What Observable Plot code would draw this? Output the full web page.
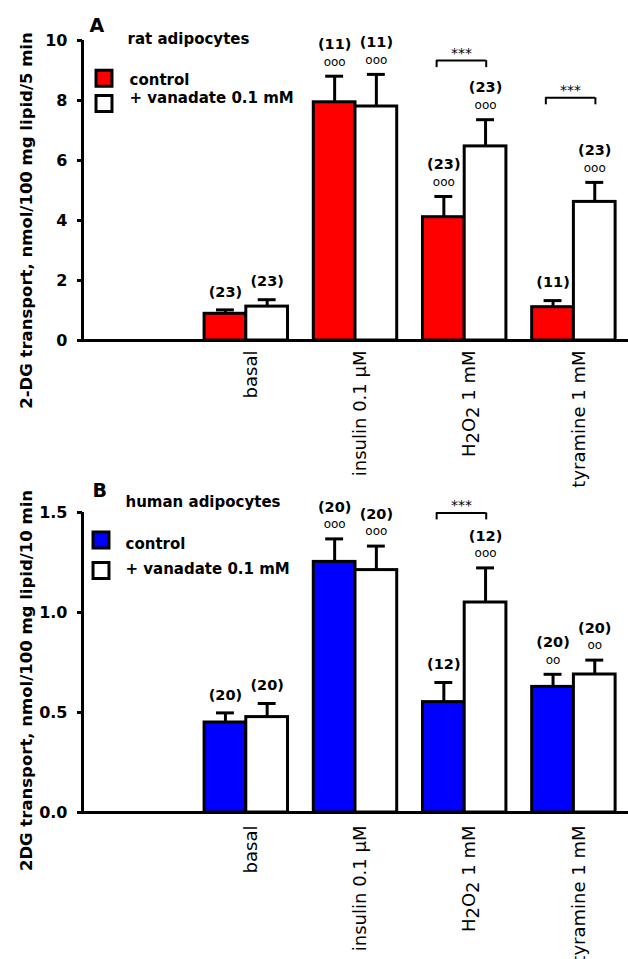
<!DOCTYPE html>
<html><head><meta charset="utf-8">
<script src="https://cdn.jsdelivr.net/npm/d3@7"></script>
<script src="https://cdn.jsdelivr.net/npm/@observablehq/plot@0.6"></script>
<style>
body{margin:0;background:#fff;}
#wrap{position:relative;width:628px;height:959px;overflow:hidden;}
#top,#bot{position:absolute;left:0;}
#top{top:0px;}
#bot{top:470px;}
</style></head><body>
<div id="wrap"><div id="top"></div><div id="bot"></div></div>
<script>
// ---- data ----
const categories = ["basal", "insulin 0.1 μM", "H2O2 1 mM", "tyramine 1 mM"];
const seriesNames = ["control", "+ vanadate 0.1 mM"];

// Panel A: rat adipocytes
const ratControl = [0.89, 7.94, 4.11, 1.11];
const ratControlSem = [0.13, 0.87, 0.69, 0.22];
const ratControlN = [23, 11, 23, 11];
const ratControlSig = ["", "ooo", "ooo", ""];
const ratVanadate = [1.13, 7.80, 6.47, 4.62];
const ratVanadateSem = [0.23, 1.07, 0.89, 0.65];
const ratVanadateN = [23, 11, 23, 23];
const ratVanadateSig = ["", "ooo", "ooo", "ooo"];
const ratBracketCats = ["H2O2 1 mM", "tyramine 1 mM"];
const ratBracketY = [9.33, 8.09];
const ratYTicks = [0, 2, 4, 6, 8, 10];

// Panel B: human adipocytes
const humControl = [0.45, 1.253, 0.552, 0.628];
const humControlSem = [0.048, 0.115, 0.098, 0.063];
const humControlN = [20, 20, 12, 20];
const humControlSig = ["", "ooo", "", "oo"];
const humVanadate = [0.477, 1.212, 1.05, 0.69];
const humVanadateSem = [0.068, 0.12, 0.173, 0.072];
const humVanadateN = [20, 20, 12, 20];
const humVanadateSig = ["", "ooo", "ooo", "oo"];
const humBracketCats = ["H2O2 1 mM"];
const humBracketY = [1.498];
const humYTicks = [0, 0.5, 1.0, 1.5];

const FONT = "DejaVu Sans";
const BAR_W = 0.382;   // bar width in band units
const CAP = 0.082;     // half cap width
const BR = 0.227;      // half bracket width

function panel(cfg) {
  const rows = [];
  categories.forEach((c, i) => {
    const k = i + 1;
    rows.push({cat: k, s: 0, value: cfg.ctrl[i], sem: cfg.ctrlSem[i], n: cfg.ctrlN[i], sig: cfg.ctrlSig[i],
      x1: k - BAR_W, x2: k, cx: k - BAR_W / 2});
    rows.push({cat: k, s: 1, value: cfg.van[i], sem: cfg.vanSem[i], n: cfg.vanN[i], sig: cfg.vanSig[i],
      x1: k, x2: k + BAR_W, cx: k + BAR_W / 2});
  });
  rows.forEach(d => d.top = d.value + d.sem);
  const brackets = cfg.brCats.map((c, i) => ({cx: categories.indexOf(c) + 1 - 0.03, y: cfg.brY[i]}));
  const bracketEnds = brackets.flatMap(b => [{x: b.cx - BR, y: b.y}, {x: b.cx + BR, y: b.y}]);
  const fl = cfg.legend;

  const chart = Plot.plot({
    width: 628, height: cfg.height,
    marginLeft: 82, marginRight: 0, marginTop: cfg.mt, marginBottom: cfg.mb,
    style: {fontFamily: FONT, background: "transparent", overflow: "visible", color: "black"},
    x: {domain: [-0.5, 4.5], axis: null},
    y: {domain: cfg.yDomain},
    marks: [
      Plot.axisY({ticks: cfg.yTicks, tickFormat: cfg.tickFormat, tickSize: 5, tickPadding: 10,
        fontSize: 16, fontWeight: "bold", strokeWidth: 3, label: null}),
      Plot.ruleX(rows, {x: "cx", y1: "value", y2: "top", strokeWidth: 3}),
      Plot.ruleY(rows, {y: "top", x1: d => d.cx - CAP, x2: d => d.cx + CAP, strokeWidth: 3}),
      Plot.rectY(rows.filter(d => d.s === 0), {x1: "x1", x2: "x2", y1: 0, y2: "value", fill: cfg.color, stroke: "black", strokeWidth: 3}),
      Plot.rectY(rows.filter(d => d.s === 1), {x1: "x1", x2: "x2", y1: 0, y2: "value", fill: "white", stroke: "black", strokeWidth: 3}),
      Plot.ruleY([0], {strokeWidth: 3}),
      Plot.ruleX([-0.5], {strokeWidth: 3}),
      Plot.text(rows.filter(d => !d.sig), {x: "cx", y: "top", text: d => `(${d.n})`, dy: -18, fontSize: 14.5, fontWeight: "bold"}),
      Plot.text(rows.filter(d => d.sig), {x: "cx", y: "top", text: d => `(${d.n})`, dy: -32, fontSize: 14.5, fontWeight: "bold"}),
      Plot.text(rows.filter(d => d.sig), {x: "cx", y: "top", text: "sig", dy: -14.5, fontSize: 12}),
      Plot.ruleY(brackets, {y: "y", x1: d => d.cx - BR, x2: d => d.cx + BR, strokeWidth: 2}),
      Plot.ruleX(bracketEnds, {x: "x", y1: "y", y2: "y", insetBottom: -7, strokeWidth: 2}),
      Plot.text(brackets, {x: "cx", y: "y", text: () => "***", dy: -7, fontSize: 14}),
      Plot.text(categories, {x: (d, i) => i + 1, text: d => d, frameAnchor: "bottom", rotate: -90,
        textAnchor: "end", lineAnchor: "middle", dy: cfg.labelPad, dx: 5, fontSize: 18}),
      Plot.text([cfg.yTitle], {text: d => d, frameAnchor: "left", rotate: -90, textAnchor: "middle",
        lineAnchor: "bottom", dx: -51, dy: cfg.titleDy, fontSize: 16.5, fontWeight: "bold"}),
      Plot.text([cfg.letter], {text: d => d, frameAnchor: "top-left", textAnchor: "start", lineAnchor: "bottom",
        dx: fl.letterDx, dy: fl.letterDy, fontSize: 19, fontWeight: "bold"}),
      Plot.text([cfg.subtitle], {text: d => d, frameAnchor: "top-left", textAnchor: "start", lineAnchor: "bottom",
        dx: fl.textDx, dy: fl.subDy, fontSize: 15, fontWeight: "bold"}),
      Plot.dot([seriesNames[0]], {frameAnchor: "top-left", dx: fl.boxDx, dy: fl.box1Dy, symbol: "square", r: 9,
        fill: cfg.color, stroke: "black", strokeWidth: 3}),
      Plot.dot([seriesNames[1]], {frameAnchor: "top-left", dx: fl.boxDx, dy: fl.box2Dy, symbol: "square", r: 9,
        fill: "white", stroke: "black", strokeWidth: 3}),
      Plot.text([seriesNames[0]], {text: d => d, frameAnchor: "top-left", textAnchor: "start", lineAnchor: "bottom",
        dx: fl.legDx, dy: fl.leg1Dy, fontSize: 15, fontWeight: "bold"}),
      Plot.text([seriesNames[1]], {text: d => d, frameAnchor: "top-left", textAnchor: "start", lineAnchor: "bottom",
        dx: fl.legDx, dy: fl.leg2Dy, fontSize: 15, fontWeight: "bold"})
    ]
  });
  // subscripts for H2O2
  d3.select(chart).selectAll("text").each(function() {
    const t = d3.select(this);
    if (this.textContent === "H2O2 1 mM") {
      this.textContent = "";
      t.append("tspan").text("H");
      t.append("tspan").attr("dy", 4).text("2");
      t.append("tspan").attr("dy", -4).text("O");
      t.append("tspan").attr("dy", 4).text("2");
      t.append("tspan").attr("dy", -4).text(" 1 mM");
    }
  });
  return chart;
}

document.getElementById("top").append(panel({
  ctrl: ratControl, ctrlSem: ratControlSem, ctrlN: ratControlN, ctrlSig: ratControlSig,
  van: ratVanadate, vanSem: ratVanadateSem, vanN: ratVanadateN, vanSig: ratVanadateSig,
  brCats: ratBracketCats, brY: ratBracketY, yTicks: ratYTicks, tickFormat: d3.format("d"),
  yDomain: [0, 10], color: "#ff0000", height: 480, mt: 40, mb: 140, labelPad: 10,
  yTitle: "2-DG transport, nmol/100 mg lipid/5 min", titleDy: 30,
  letter: "A", subtitle: "rat adipocytes",
  legend: {letterDx: 7, letterDy: -8.3, textDx: 45, subDy: 3.3, boxDx: 21.5, box1Dy: 37.8, box2Dy: 63,
    legDx: 47, leg1Dy: 44, leg2Dy: 62.3}
}));

document.getElementById("bot").append(panel({
  ctrl: humControl, ctrlSem: humControlSem, ctrlN: humControlN, ctrlSig: humControlSig,
  van: humVanadate, vanSem: humVanadateSem, vanN: humVanadateN, vanSig: humVanadateSig,
  brCats: humBracketCats, brY: humBracketY, yTicks: humYTicks, tickFormat: d3.format(".1f"),
  yDomain: [0, 1.5], color: "#0000ff", height: 489, mt: 42, mb: 147, labelPad: 13,
  yTitle: "2DG transport, nmol/100 mg lipid/10 min", titleDy: 18,
  letter: "B", subtitle: "human adipocytes",
  legend: {letterDx: 10, letterDy: -15.3, textDx: 43, subDy: -5.3, boxDx: 18.5, box1Dy: 27.5, box2Dy: 58,
    legDx: 43, leg1Dy: 36.3, leg2Dy: 61.3}
}));
</script>
</body></html>
